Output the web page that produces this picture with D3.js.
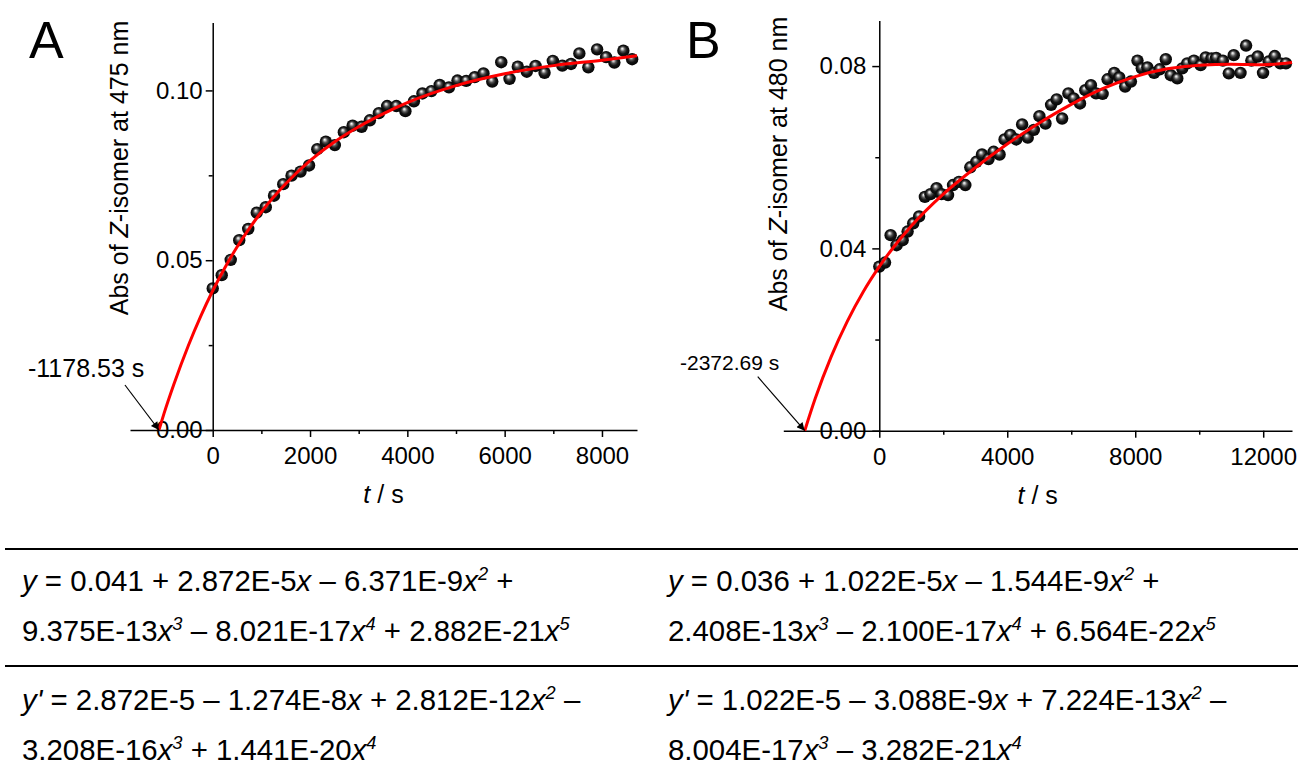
<!DOCTYPE html>
<html><head><meta charset="utf-8">
<script src="https://cdn.jsdelivr.net/npm/d3@7"></script>
<style>
body{margin:0;background:#fff;}
svg text{font-family:"Liberation Sans",Arial,sans-serif;fill:#000;}
</style></head><body>
<svg id="chart" width="1298" height="778"></svg>
<script>
// ---------- Panel A data ----------
const aTime=[0,185,370,545,730,905,1090,1260,1450,1620,1805,1980,2150,2325,2510,2695,2875,3060,3230,3415,3585,3775,3960,4135,4310,4495,4665,4855,5030,5210,5385,5565,5745,5930,6100,6270,6455,6635,6820,6990,7185,7365,7535,7720,7900,8085,8255,8440,8620];
const aAbs=[0.0417,0.0456,0.0501,0.0559,0.0592,0.0640,0.0656,0.0690,0.0724,0.0749,0.0761,0.0779,0.0827,0.0849,0.0839,0.0877,0.0896,0.0893,0.0912,0.0933,0.0954,0.0954,0.0939,0.0968,0.0991,0.0998,0.1016,0.1009,0.1029,0.1028,0.1039,0.1050,0.1026,0.1083,0.1034,0.1070,0.1055,0.1072,0.1052,0.1087,0.1073,0.1078,0.1109,0.1068,0.1121,0.1098,0.1082,0.1117,0.1092];
const aFitTime=[-1105,-1000,-800,-500,-250,0,250,500,750,1000,1500,2000,2500,3000,3500,4000,5000,6000,7000,8000,8720];
const aFitAbs=[0,0.0049,0.0134,0.0249,0.0334,0.0410,0.0478,0.0539,0.0593,0.0642,0.0725,0.0793,0.0848,0.0893,0.0931,0.0964,0.1014,0.1049,0.1073,0.1089,0.1102];
const aXMajor=[0,2000,4000,6000,8000];
const aXMinor=[1000,3000,5000,7000];
const aYMajor=[0,0.05,0.10];
const aYMinor=[0.025,0.075];
const aXDomain=[-1700,8720];
const aYDomain=[0,0.12];
const aRootLabel="-1178.53 s";
const aYTitle=["Abs of ","Z","-isomer at 475 nm"];

// ---------- Panel B data ----------
const bTime=[0,180,355,540,730,885,1060,1245,1425,1600,1790,1945,2150,2305,2490,2690,2845,3035,3210,3415,3575,3760,3915,4095,4280,4465,4640,4830,5005,5195,5370,5545,5715,5910,6075,6275,6440,6615,6775,6980,7135,7345,7500,7685,7865,8070,8205,8380,8590,8765,8955,9110,9315,9470,9625,9835,10045,10200,10385,10530,10740,10925,11080,11290,11465,11630,11830,11995,12170,12360,12535,12710];
const bAbs=[0.0360,0.0369,0.0429,0.0407,0.0418,0.0437,0.0455,0.0470,0.0513,0.0519,0.0532,0.0519,0.0517,0.0539,0.0546,0.0539,0.0578,0.0590,0.0606,0.0596,0.0612,0.0606,0.0639,0.0649,0.0639,0.0672,0.0643,0.0660,0.0690,0.0674,0.0715,0.0727,0.0685,0.0740,0.0729,0.0718,0.0747,0.0758,0.0740,0.0739,0.0771,0.0785,0.0775,0.0755,0.0766,0.0812,0.0795,0.0797,0.0785,0.0793,0.0815,0.0780,0.0773,0.0795,0.0806,0.0812,0.0802,0.0819,0.0817,0.0818,0.0812,0.0784,0.0824,0.0785,0.0845,0.0812,0.0821,0.0785,0.0810,0.0822,0.0806,0.0806];
const bFitTime=[-2330,-2000,-1500,-1000,-500,0,1000,2000,3000,4000,5000,6000,7000,8000,9000,10000,11000,12000,12900];
const bFitAbs=[0,0.0071,0.0163,0.0240,0.0305,0.0360,0.0449,0.0519,0.0577,0.0629,0.0675,0.0716,0.0751,0.0777,0.0794,0.0802,0.0804,0.0803,0.0808];
const bXMajor=[0,4000,8000,12000];
const bXMinor=[2000,6000,10000];
const bYMajor=[0,0.04,0.08];
const bYMinor=[0.02,0.06];
const bXDomain=[-3000,12900];
const bYDomain=[0,0.09];
const bRootLabel="-2372.69 s";
const bYTitle=["Abs of ","Z","-isomer at 480 nm"];

// ---------- Equations ----------
const eqA=["*y* = 0.041 + 2.872E-5*x* – 6.371E-9*x*^2 +","9.375E-13*x*^3 – 8.021E-17*x*^4 + 2.882E-21*x*^5"];
const eqB=["*y* = 0.036 + 1.022E-5*x* – 1.544E-9*x*^2 +","2.408E-13*x*^3 – 2.100E-17*x*^4 + 6.564E-22*x*^5"];
const dEqA=["*y'* = 2.872E-5 – 1.274E-8*x* + 2.812E-12*x*^2 –","3.208E-16*x*^3 + 1.441E-20*x*^4"];
const dEqB=["*y'* = 1.022E-5 – 3.088E-9*x* + 7.224E-13*x*^2 –","8.004E-17*x*^3 – 3.282E-21*x*^4"];

const svg=d3.select("#chart");
const defs=svg.append("defs");
const grad=defs.append("radialGradient").attr("id","sphere")
  .attr("cx","0.5").attr("cy","0.5").attr("r","0.55").attr("fx","0.4").attr("fy","0.32");
[["0","#ffffff"],["0.12","#d0d0d0"],["0.35","#555555"],["0.6","#141414"],["1","#000"]]
  .forEach(s=>grad.append("stop").attr("offset",s[0]).attr("stop-color",s[1]));
defs.append("marker").attr("id","arrow").attr("viewBox","0 0 10 10").attr("refX",10).attr("refY",5)
  .attr("markerWidth",11).attr("markerHeight",8).attr("markerUnits","userSpaceOnUse").attr("orient","auto")
  .append("path").attr("d","M0,0L10,5L0,10z").attr("fill","#000");

function panel(cfg){
  const x=d3.scaleLinear().domain(cfg.xDomain).range(cfg.xRange);
  const y=d3.scaleLinear().domain(cfg.yDomain).range(cfg.yRange);
  const g=svg.append("g");
  const pts=cfg.time.map((t,i)=>[t,cfg.abs[i]]);
  g.append("g").selectAll("circle").data(pts).join("circle")
    .attr("cx",d=>x(d[0])).attr("cy",d=>y(d[1])).attr("r",6.2).attr("fill","url(#sphere)");
  const fit=cfg.fitTime.map((t,i)=>[t,cfg.fitAbs[i]]);
  // axes
  const y0=y(0), x0=x(0);
  const xa=g.append("g").attr("transform",`translate(0,${y0})`);
  xa.call(d3.axisBottom(x).tickValues(cfg.xMajor).tickSize(7).tickSizeOuter(0).tickPadding(10).tickFormat(d3.format("d")));
  const xm=g.append("g").attr("transform",`translate(0,${y0})`);
  xm.call(d3.axisBottom(x).tickValues(cfg.xMinor).tickSize(4).tickFormat(""));
  xm.select(".domain").remove();
  const ya=g.append("g").attr("transform",`translate(${x0},0)`);
  ya.call(d3.axisLeft(y).tickValues(cfg.yMajor).tickSize(7).tickSizeOuter(0).tickPadding(cfg.yPad).tickFormat(d3.format(".2f")));
  const ym=g.append("g").attr("transform",`translate(${x0},0)`);
  ym.call(d3.axisLeft(y).tickValues(cfg.yMinor).tickSize(4).tickFormat(""));
  ym.select(".domain").remove();
  g.selectAll(".domain,.tick line").attr("stroke","#000").attr("stroke-width",1.5);
  g.selectAll(".tick text").attr("font-size",24).attr("font-family","'Liberation Sans',Arial,sans-serif").attr("fill","#000");
  // fit line
  g.append("path").datum(fit).attr("fill","none").attr("stroke","#ff0000").attr("stroke-width",3)
    .attr("d",d3.line().x(d=>x(d[0])).y(d=>y(d[1])).curve(d3.curveMonotoneX));
  // x title
  const xr=x.range();
  const xt=g.append("text").attr("x",(xr[0]+xr[1])/2).attr("y",y0+73).attr("text-anchor","middle").attr("font-size",25);
  xt.append("tspan").attr("font-style","italic").text("t");
  xt.append("tspan").text(" / s");
  // y title
  const yt=g.append("text").attr("transform",`translate(${cfg.yTitleX},${cfg.yTitleY}) rotate(-90)`)
    .attr("text-anchor","middle").attr("font-size",25);
  yt.append("tspan").text(cfg.yTitle[0]);
  yt.append("tspan").attr("font-style","italic").text(cfg.yTitle[1]);
  yt.append("tspan").text(cfg.yTitle[2]);
  // panel letter
  g.append("text").attr("x",cfg.letterX).attr("y",58).attr("font-size",52).text(cfg.letter);
  // annotation arrow to root
  const tipX=x(cfg.fitTime[0]), tipY=y(0);
  g.append("line").attr("x1",tipX-cfg.arrowDx).attr("y1",tipY-cfg.arrowDy).attr("x2",tipX).attr("y2",tipY)
    .attr("stroke","#000").attr("stroke-width",1.2).attr("marker-end","url(#arrow)");
  g.append("text").attr("x",cfg.labelX).attr("y",cfg.labelY).attr("font-size",cfg.labelSize).text(cfg.rootLabel);
}

panel({time:aTime,abs:aAbs,fitTime:aFitTime,fitAbs:aFitAbs,xMajor:aXMajor,xMinor:aXMinor,yMajor:aYMajor,yMinor:aYMinor,
  xDomain:aXDomain,yDomain:aYDomain,xRange:[130,637],yRange:[430,22.5],yPad:3,yTitle:aYTitle,yTitleX:128,yTitleY:168,
  letter:"A",letterX:29,arrowDx:34,arrowDy:45,labelX:28,labelY:377,labelSize:25,rootLabel:aRootLabel});
panel({time:bTime,abs:bAbs,fitTime:bFitTime,fitAbs:bFitAbs,xMajor:bXMajor,xMinor:bXMinor,yMajor:bYMajor,yMinor:bYMinor,
  xDomain:bXDomain,yDomain:bYDomain,xRange:[783.3,1292],yRange:[430.7,20.5],yPad:6,yTitle:bYTitle,yTitleX:787,yTitleY:164,
  letter:"B",letterX:686,arrowDx:47,arrowDy:54,labelX:680,labelY:370,labelSize:21,rootLabel:bRootLabel});

// ---------- equations table ----------
const eqSize=29.4;
svg.append("line").attr("x1",5).attr("x2",1298).attr("y1",549).attr("y2",549).attr("stroke","#000").attr("stroke-width",2);
svg.append("line").attr("x1",5).attr("x2",1298).attr("y1",666).attr("y2",666).attr("stroke","#000").attr("stroke-width",2);
function eqLine(str,xp,yp){
  const t=svg.append("text").attr("x",xp).attr("y",yp).attr("font-size",eqSize);
  const parts=str.split(/(\*[^*]+\*|\^\d)/).filter(s=>s.length);
  let raised=false;
  parts.forEach(p=>{
    const sp=t.append("tspan");
    let dy=0;
    if(p[0]==="^"){ sp.attr("font-size",eqSize*0.62).attr("font-style","italic").text(p.slice(1)); if(!raised){dy=-eqSize*0.38; raised=true;} }
    else { if(raised){dy=eqSize*0.38; raised=false;}
      if(p[0]==="*"){ sp.attr("font-style","italic").text(p.slice(1,-1)); } else sp.text(p); }
    if(dy) sp.attr("dy",dy);
  });
}
const lineY=[591,641,710,760];
eqLine(eqA[0],22,lineY[0]); eqLine(eqA[1],22,lineY[1]);
eqLine(eqB[0],668,lineY[0]); eqLine(eqB[1],668,lineY[1]);
eqLine(dEqA[0],22,lineY[2]); eqLine(dEqA[1],22,lineY[3]);
eqLine(dEqB[0],668,lineY[2]); eqLine(dEqB[1],668,lineY[3]);
</script></body></html>
